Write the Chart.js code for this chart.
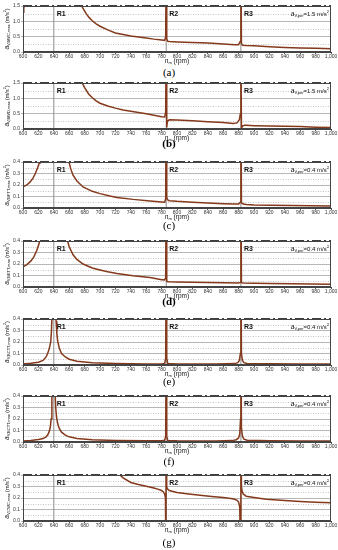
<!DOCTYPE html>
<html><head><meta charset="utf-8">
<script src="https://cdn.jsdelivr.net/npm/chart.js@4/dist/chart.umd.min.js"></script>
<style>
html,body{margin:0;padding:0;background:#fff;}
body{width:338px;height:550px;position:relative;overflow:hidden;}
canvas.pan{position:absolute;left:0;}
.cap{position:absolute;left:0;width:338px;text-align:center;font-family:'Liberation Serif','DejaVu Serif',serif;font-size:11px;color:#000;line-height:12px;}
</style></head><body>
<script>
// ---------- data ----------
const resonances = [640, 786, 883];
const resonanceLabels = ['R1', 'R2', 'R3'];
const panelLetters = ['(a)', '(b)', '(c)', '(d)', '(e)', '(f)', '(g)'];
const yTitleSubs = ['V,BWC,max', 'V,BWD,max', 'V,BFTT,max', 'V,BETT,max', 'V,BCTT,max', 'V,BCTT,max', 'V,CWC,max'];
const limits = [1.5, 1.5, 0.4, 0.4, 0.4, 0.4, 0.4];
const yTickStep = [0.5, 0.5, 0.1, 0.1, 0.1, 0.1, 0.1];

const rpmA = [600, 601, 602, 603, 660, 675, 678, 682, 686, 690, 695, 700, 710, 720, 730, 740, 750, 760, 770, 780, 784, 785.3, 786, 786.7, 788, 790, 800, 820, 840, 860, 875, 880, 882.3, 883, 883.7, 885, 890, 900, 920, 940, 960, 980, 1000];
const accA = [1.30, 1.42, 1.55, 1.7, 2.5, 1.55, 1.42, 1.25, 1.12, 1.02, 0.92, 0.84, 0.72, 0.62, 0.57, 0.52, 0.49, 0.46, 0.42, 0.39, 0.38, 0.5, 3.0, 0.42, 0.35, 0.34, 0.33, 0.31, 0.29, 0.26, 0.24, 0.24, 0.35, 3.0, 0.28, 0.22, 0.21, 0.2, 0.17, 0.15, 0.13, 0.12, 0.11];

const rpmB = [600, 670, 676, 680, 685, 690, 695, 700, 710, 720, 730, 740, 750, 760, 770, 780, 784, 785.3, 786, 786.7, 787.5, 790, 800, 820, 840, 860, 873, 878, 881, 882.3, 883, 883.7, 885, 888, 890, 900, 920, 940, 960, 980, 1000];
const accB = [2.5, 2.0, 1.55, 1.35, 1.15, 1.02, 0.92, 0.84, 0.75, 0.68, 0.62, 0.58, 0.54, 0.5, 0.45, 0.4, 0.39, 0.55, 3.0, 0.05, 0.25, 0.3, 0.29, 0.27, 0.24, 0.21, 0.18, 0.2, 0.3, 0.5, 3.0, 0.02, 0.1, 0.12, 0.12, 0.11, 0.1, 0.09, 0.08, 0.06, 0.05];

const rpmC = [600, 605, 609, 613, 616, 619, 621, 622, 624, 656, 659, 662, 665, 670, 678, 690, 700, 713, 722, 743, 765, 780, 784, 785.3, 786, 786.7, 788, 790, 800, 820, 840, 860, 875, 880, 882.3, 883, 883.7, 886, 890, 900, 920, 950, 1000];
const accC = [0.183, 0.2, 0.225, 0.26, 0.3, 0.35, 0.39, 0.42, 0.6, 0.6, 0.42, 0.34, 0.285, 0.235, 0.183, 0.145, 0.125, 0.104, 0.092, 0.075, 0.061, 0.052, 0.05, 0.08, 1.0, 0.09, 0.07, 0.064, 0.058, 0.05, 0.044, 0.038, 0.034, 0.034, 0.05, 1.0, 0.045, 0.034, 0.03, 0.027, 0.024, 0.021, 0.017];

const rpmD = [600, 605, 610, 614, 618, 621, 623, 655, 657, 660, 665, 670, 678, 690, 700, 710, 722, 743, 765, 780, 784, 785.3, 786, 786.7, 788, 790, 800, 820, 840, 860, 880, 882.3, 883, 883.7, 886, 900, 920, 950, 1000];
const accD = [0.175, 0.195, 0.225, 0.26, 0.32, 0.38, 0.5, 0.6, 0.42, 0.35, 0.28, 0.24, 0.2, 0.165, 0.148, 0.132, 0.118, 0.098, 0.083, 0.064, 0.062, 0.08, 1.0, 0.05, 0.046, 0.045, 0.044, 0.041, 0.039, 0.037, 0.035, 0.04, 1.0, 0.038, 0.035, 0.033, 0.03, 0.028, 0.024];

const rpmE = [600, 610, 620, 626, 630, 632, 634, 636, 637, 638, 642, 643, 644, 645, 647, 650, 655, 660, 670, 690, 720, 760, 780, 784, 785.3, 786, 786.7, 788, 800, 850, 875, 879, 881, 882.3, 883, 883.7, 885, 887, 891, 920, 960, 1000];
const accE = [0.009, 0.015, 0.024, 0.04, 0.07, 0.1, 0.14, 0.2, 0.3, 0.5, 0.5, 0.38, 0.27, 0.21, 0.15, 0.1, 0.07, 0.05, 0.033, 0.02, 0.013, 0.008, 0.008, 0.014, 0.06, 1.0, 0.06, 0.012, 0.009, 0.008, 0.012, 0.02, 0.04, 0.1, 1.0, 0.1, 0.04, 0.02, 0.013, 0.01, 0.009, 0.008];

const rpmF = [600, 610, 620, 626, 630, 632, 634, 635.5, 636.5, 637.5, 641.5, 642.5, 643.5, 645, 647, 650, 655, 660, 670, 690, 720, 760, 780, 784, 785.3, 786, 786.7, 788, 800, 850, 872, 877, 880, 881.5, 882.5, 883, 883.7, 885, 887, 891, 920, 960, 1000];
const accF = [0.009, 0.014, 0.021, 0.03, 0.045, 0.06, 0.09, 0.13, 0.2, 0.45, 0.45, 0.3, 0.22, 0.16, 0.12, 0.085, 0.06, 0.045, 0.03, 0.02, 0.014, 0.011, 0.011, 0.015, 0.05, 1.0, 0.05, 0.014, 0.01, 0.009, 0.012, 0.02, 0.035, 0.07, 0.2, 1.0, 0.12, 0.05, 0.025, 0.015, 0.01, 0.009, 0.008];

const rpmG = [600, 720, 726, 730, 740, 750, 760, 770, 775, 780, 782, 784, 785, 785.6, 786, 786.6, 787.5, 790, 800, 815, 830, 845, 860, 870, 875, 878, 880, 881.5, 882.5, 883, 883.7, 884.5, 886, 890, 900, 916, 940, 960, 980, 1000];
const accG = [0.6, 0.45, 0.4, 0.375, 0.335, 0.318, 0.303, 0.287, 0.277, 0.265, 0.255, 0.235, 0.2, -0.3, 1.0, 0.3, 0.28, 0.265, 0.248, 0.235, 0.224, 0.214, 0.205, 0.196, 0.189, 0.18, 0.165, 0.12, -0.3, 1.0, 0.3, 0.26, 0.235, 0.215, 0.205, 0.19, 0.178, 0.17, 0.164, 0.158];

const seriesRpm = [rpmA, rpmB, rpmC, rpmD, rpmE, rpmF, rpmG];
const seriesAcc = [accA, accB, accC, accD, accE, accF, accG];

// ---------- layout ----------
const plotTops = [6, 83, 162, 241, 319, 396, 475];
const capCenters = [72, 143, 225, 301, 381, 461, 542];
const boldCaps = [false, true, false, true, false, false, false];
const PAD_TOP = 6, PLOT_H = 46, CANVAS_H = 66;
const SANS = '"Liberation Sans", Arial, sans-serif';
const CURVE = '#84391b';

function fnt(p) { return (p.b ? 'bold ' : '') + (p.i ? 'italic ' : '') + p.s + 'px ' + SANS; }
function rich(ctx, parts, x, y, align) {
  let w = 0;
  parts.forEach(p => { ctx.font = fnt(p); p.w = ctx.measureText(p.t).width; w += p.w; });
  let cx = align === 'center' ? x - w / 2 : align === 'right' ? x - w : x;
  ctx.textAlign = 'left'; ctx.textBaseline = 'middle';
  parts.forEach(p => { ctx.font = fnt(p); ctx.fillText(p.t, cx, y + (p.dy || 0)); cx += p.w; });
}

const decor = {
  id: 'decor',
  beforeDatasetsDraw(chart, args, o) {
    const { ctx, chartArea: a, scales: { y } } = chart;
    const tv = y.ticks.map(t => t.value);
    ctx.save();
    ctx.strokeStyle = '#b5b5b5'; ctx.lineWidth = 0.8; ctx.setLineDash([1, 1.5]);
    for (let i = 0; i < tv.length - 1; i++) {
      const py = Math.round(y.getPixelForValue((tv[i] + tv[i + 1]) / 2)) + 0.5;
      ctx.beginPath(); ctx.moveTo(a.left, py); ctx.lineTo(a.right, py); ctx.stroke();
    }
    ctx.restore();
  },
  afterDraw(chart, args, o) {
    const { ctx, chartArea: a, scales: { x } } = chart;
    ctx.save();
    ctx.strokeStyle = '#444'; ctx.lineWidth = 1;
    ctx.strokeRect(Math.round(a.left) + 0.5, Math.round(a.top) + 0.5, Math.round(a.right - a.left) - 1, Math.round(a.bottom - a.top) - 1);
    ctx.fillStyle = '#111';
    resonances.forEach((r, i) => {
      rich(ctx, [{ t: resonanceLabels[i], s: 7, b: true }], x.getPixelForValue(r) + 3, a.top + 8.5, 'left');
    });
    rich(ctx, [
      { t: 'a', s: 6.5, i: true },
      { t: 'V,per', s: 4, dy: 1.8 },
      { t: '=' + o.lim.toFixed(1) + ' m/s', s: 6 },
      { t: '2', s: 4, dy: -2.5 }
    ], a.right - 2, a.top + 8.5, 'right');
    // x title
    rich(ctx, [{ t: 'n', s: 6.5, i: true }, { t: 'm', s: 4, dy: 1.8 }, { t: ' (rpm)', s: 6.5 }], (a.left + a.right) / 2, a.bottom + 9.5, 'center');
    // y title (rotated)
    ctx.translate(7, (a.top + a.bottom) / 2);
    ctx.rotate(-Math.PI / 2);
    rich(ctx, [
      { t: 'a', s: 6.5, i: true },
      { t: o.sub, s: 4, dy: 1.8 },
      { t: ' (m/s', s: 5.5 },
      { t: '2', s: 3.8, dy: -2.3 },
      { t: ')', s: 5.5 }
    ], 0, 0, 'center');
    ctx.restore();
  }
};

for (let k = 0; k < 7; k++) {
  const cv = document.createElement('canvas');
  cv.className = 'pan';
  cv.width = 338; cv.height = CANVAS_H;
  cv.style.width = '338px'; cv.style.height = CANVAS_H + 'px';
  cv.style.top = (plotTops[k] - PAD_TOP) + 'px';
  document.body.appendChild(cv);

  const cap = document.createElement('div');
  cap.className = 'cap';
  cap.textContent = panelLetters[k];
  cap.style.top = (capCenters[k] - 6) + 'px';
  if (boldCaps[k]) cap.style.fontWeight = 'bold';
  document.body.appendChild(cap);

  const lim = limits[k];
  const pts = seriesRpm[k].map((r, i) => ({ x: r, y: seriesAcc[k][i] }));
  const datasets = [
    { data: [{ x: 600, y: lim }, { x: 1000, y: lim }], borderColor: '#000', borderWidth: 1.6, borderDash: [9, 3, 2, 3], clip: 3 },
    { data: pts, borderColor: CURVE, borderWidth: 1.5, clip: 0 }
  ];
  resonances.forEach(r => datasets.push({ data: [{ x: r, y: 0 }, { x: r, y: lim }], borderColor: '#8e8e8e', borderWidth: 1, clip: 0 }));
  datasets.forEach(d => { d.showLine = true; d.pointRadius = 0; d.tension = 0; });

  new Chart(cv, {
    type: 'scatter',
    data: { datasets },
    options: {
      responsive: false, animation: false, devicePixelRatio: 1,
      layout: { padding: { top: PAD_TOP, right: 7, left: 0, bottom: 0 } },
      plugins: { legend: { display: false }, tooltip: { enabled: false },
        decor: { lim: lim, sub: yTitleSubs[k] } },
      scales: {
        x: {
          type: 'linear', min: 600, max: 1000,
          afterFit(s) { s.height = CANVAS_H - PAD_TOP - PLOT_H; },
          ticks: { stepSize: 20, autoSkip: false, maxRotation: 0, minRotation: 0, padding: 0,
                   font: { size: 5, family: SANS }, color: '#333' },
          grid: { drawOnChartArea: false, drawTicks: true, tickLength: 2, color: '#555' },
          border: { color: '#444', width: 1 }
        },
        y: {
          min: 0, max: lim,
          afterFit(s) { s.width = 23; },
          ticks: { stepSize: yTickStep[k], padding: 1, font: { size: 5, family: SANS }, color: '#333',
                   callback: v => v.toFixed(1) },
          grid: { color: '#a5a5a5', lineWidth: 0.8, drawTicks: true, tickLength: 2 },
          border: { color: '#444', width: 1 }
        }
      }
    },
    plugins: [decor]
  });
}
</script>
</body></html>
